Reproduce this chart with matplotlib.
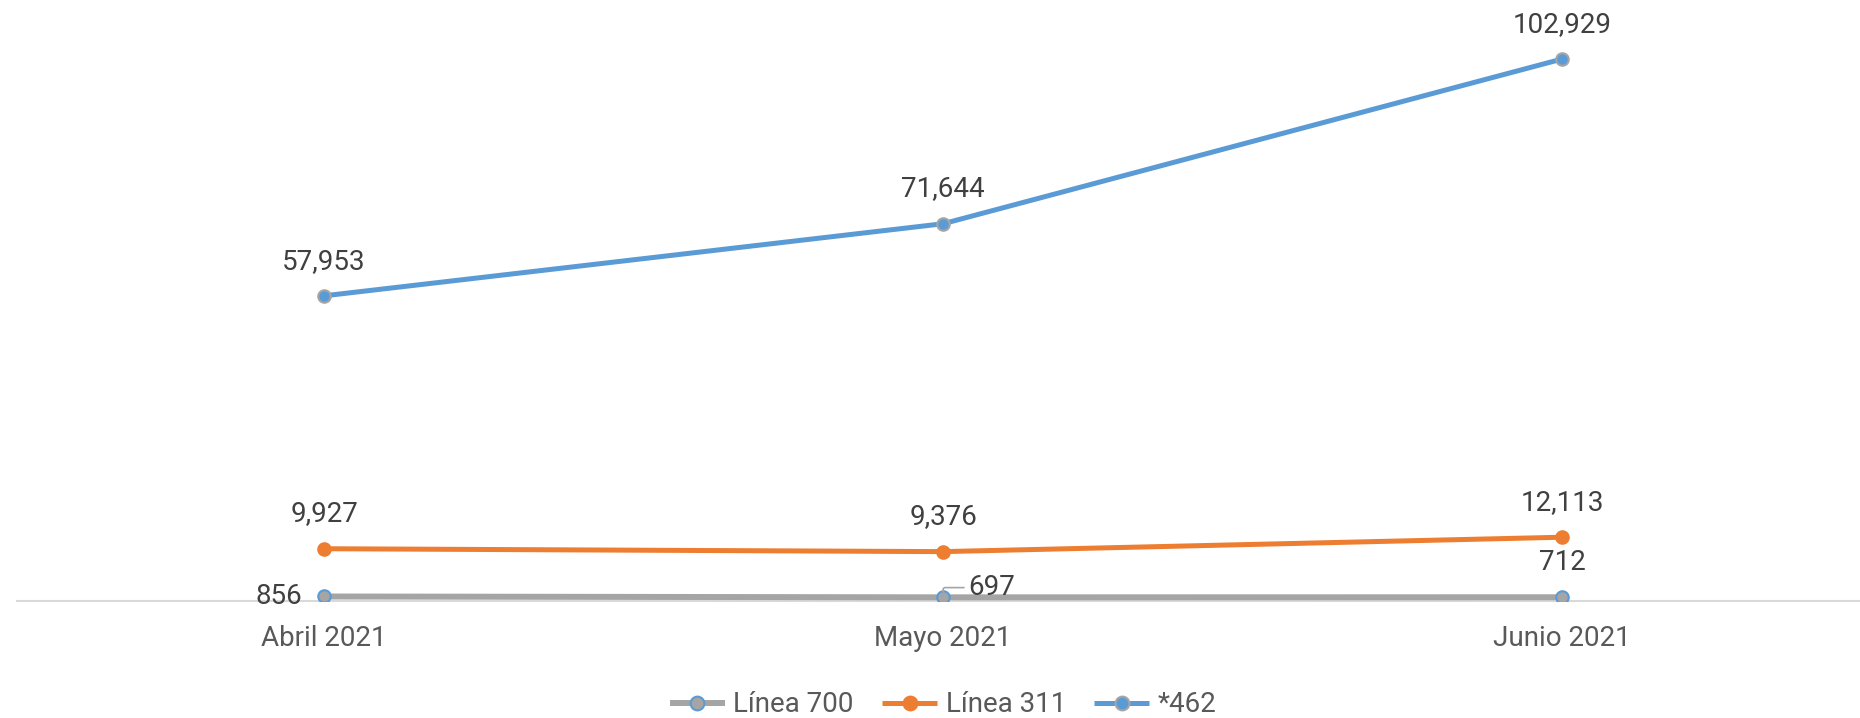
import matplotlib.pyplot as plt

plt.rcParams['font.family'] = ['Roboto', 'DejaVu Sans']

# Data
months = ['Abril 2021', 'Mayo 2021', 'Junio 2021']
linea_700 = [856, 697, 712]
linea_311 = [9927, 9376, 12113]
serie_462 = [57953, 71644, 102929]

grey = '#A5A5A5'
orange = '#ED7D31'
blue = '#5B9BD5'
label_color = '#404040'

fig = plt.figure(figsize=(18.6, 7.18), dpi=100)
ax = fig.add_axes([17 / 1860, 117 / 718, 1 - 17 / 1860, 601 / 718])

x = list(range(len(months)))
ax.plot(x, linea_700, color=grey, lw=4.3, marker='o', ms=9, mfc=grey, mec=blue, mew=1.5,
        label='Línea 700', solid_capstyle='butt', zorder=3)
ax.plot(x, linea_311, color=orange, lw=3.6, marker='o', ms=9, mfc=orange, mec=orange, mew=1.5,
        label='Línea 311', solid_capstyle='butt', zorder=3)
ax.plot(x, serie_462, color=blue, lw=3.6, marker='o', ms=9, mfc=blue, mec=grey, mew=1.5,
        label='*462', solid_capstyle='butt', zorder=4)

# Data labels above points
for series in (linea_311, serie_462):
    for i, v in enumerate(series):
        ax.annotate(f'{v:,}', (i, v), xytext=(0, 25), textcoords='offset points',
                    ha='center', va='center', fontsize=20, color=label_color)

ax.annotate(f'{linea_700[0]:,}', (0, linea_700[0]), xytext=(-16, 0), textcoords='offset points',
            ha='right', va='center', fontsize=20, color=label_color)
ax.annotate(f'{linea_700[1]:,}', (1, linea_700[1]), xytext=(18, 7), textcoords='offset points',
            ha='left', va='center', fontsize=20, color=label_color,
            arrowprops=dict(arrowstyle='-', color=grey, lw=1.2,
                            connectionstyle='angle,angleA=0,angleB=90,rad=2',
                            shrinkA=1, shrinkB=4))
ax.annotate(f'{linea_700[2]:,}', (2, linea_700[2]), xytext=(0, 25), textcoords='offset points',
            ha='center', va='center', fontsize=20, color=label_color)

ax.set_xlim(-0.496, 2.481)
ax.set_ylim(0, 114130)
ax.set_xticks(x)
ax.set_xticklabels(months, fontsize=20, color='#595959')
ax.tick_params(axis='x', length=0, pad=17)
ax.set_yticks([])
for side in ('top', 'right', 'left'):
    ax.spines[side].set_visible(False)
ax.spines['bottom'].set_color('#D9D9D9')
ax.spines['bottom'].set_linewidth(1.5)
ax.spines['bottom'].set_zorder(1)

leg = fig.legend(loc='center', bbox_to_anchor=(943 / 1860, 1 - 705 / 718), ncol=3, frameon=False,
                 fontsize=20, handlelength=2.0, handletextpad=0.3, columnspacing=1.0,
                 markerscale=1.1)
for t in leg.get_texts():
    t.set_color('#595959')

fig.savefig('out.png', dpi=100)
